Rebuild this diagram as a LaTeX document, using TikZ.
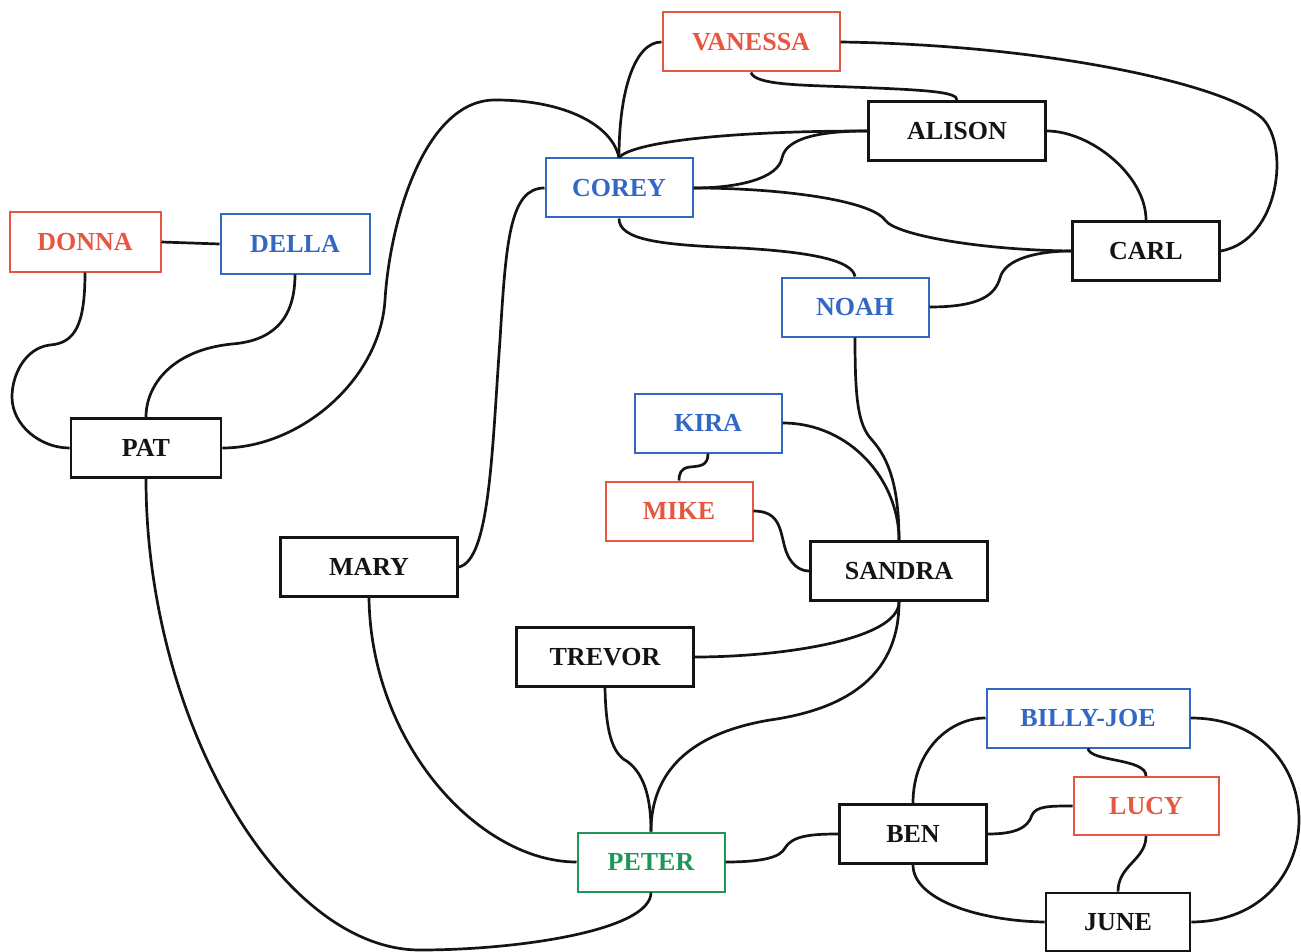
\documentclass[tikz,border=0pt]{standalone}
\usepackage{fontspec}
\setmainfont{Liberation Serif}
\definecolor{redc}{RGB}{230,86,64}
\definecolor{bluec}{RGB}{50,104,196}
\definecolor{greenc}{RGB}{30,150,88}
\definecolor{inkc}{RGB}{20,20,20}
\begin{document}
\begin{tikzpicture}[x=1pt,y=-1pt,
  pbox/.style={draw=inkc, line width=2.8pt, inner sep=0pt, minimum height=59pt,
    minimum width=147pt, text=inkc, font=\bfseries\fontsize{26}{30}\selectfont},
  wide/.style={minimum width=177pt},
  redbox/.style={draw=redc, text=redc, line width=2pt},
  bluebox/.style={draw=bluec, text=bluec, line width=2pt},
  greenbox/.style={draw=greenc, text=greenc, line width=2pt},
  link/.style={draw=inkc, line width=2.7pt}]
\useasboundingbox (0,0) rectangle (1301,952);

% people
\node[pbox, wide, redbox]  (vanessa) at (751,42)   {VANESSA};
\node[pbox, wide]          (alison)  at (957,131)  {ALISON};
\node[pbox, bluebox]       (corey)   at (619,188)  {COREY};
\node[pbox, redbox, minimum width=151pt] (donna) at (85,242) {DONNA};
\node[pbox, bluebox, minimum width=149pt] (della) at (295,244) {DELLA};
\node[pbox]                (carl)    at (1146,251) {CARL};
\node[pbox, bluebox]       (noah)    at (855,307)  {NOAH};
\node[pbox, bluebox]       (kira)    at (708,423)  {KIRA};
\node[pbox, minimum width=150pt] (pat) at (146,448) {PAT};
\node[pbox, redbox]        (mike)    at (679,511)  {MIKE};
\node[pbox, wide]          (mary)    at (369,567)  {MARY};
\node[pbox, wide]          (sandra)  at (899,571)  {SANDRA};
\node[pbox, wide]          (trevor)  at (605,657)  {TREVOR};
\node[pbox, bluebox, minimum width=203pt] (billy) at (1088,718) {BILLY-JOE};
\node[pbox, redbox, minimum width=145pt, minimum height=58pt] (lucy) at (1146,806) {LUCY};
\node[pbox]                (ben)     at (913,834)  {BEN};
\node[pbox, greenbox]      (peter)   at (651,862)  {PETER};
\node[pbox, minimum width=144pt, minimum height=58pt] (june) at (1118,922) {JUNE};

% links
\path[link] (donna.east) -- (della.west);
\path[link] (donna.south) .. controls (85,325) and (75,343) .. (50,345)
  .. controls (25,348) and (12,375) .. (12,397)
  .. controls (12,425) and (40,448) .. (pat.west);
\path[link] (della.south) .. controls (295,322) and (270,341) .. (232,344)
  .. controls (172,350) and (146,385) .. (pat.north);
\path[link] (pat.east) .. controls (300,448) and (380,380) .. (385,300)
  .. controls (390,220) and (425,100) .. (495,100)
  .. controls (565,100) and (612,125) .. (corey.north);
\path[link] (pat.south) .. controls (146,720) and (280,950) .. (420,950)
  .. controls (520,950) and (651,930) .. (peter.south);
\path[link] (mary.east) .. controls (490,560) and (492,450) .. (500,340)
  .. controls (506,240) and (510,188) .. (corey.west);
\path[link] (mary.south) .. controls (371,745) and (480,862) .. (peter.west);
\path[link] (corey.north) .. controls (619,90) and (635,42) .. (vanessa.west);
\path[link] (corey.north) .. controls (632,143) and (720,131) .. (alison.west);
\path[link] (corey.east) .. controls (740,188) and (778,178) .. (782,158)
  .. controls (786,138) and (820,131) .. (alison.west);
\path[link] (corey.east) .. controls (780,188) and (870,200) .. (885,220)
  .. controls (895,235) and (980,250) .. (carl.west);
\path[link] (corey.south) .. controls (619,240) and (660,245) .. (740,248)
  .. controls (810,252) and (852,260) .. (noah.north);
\path[link] (vanessa.south) .. controls (755,85) and (800,85) .. (850,87)
  .. controls (930,90) and (957,92) .. (alison.north);
\path[link] (vanessa.east) .. controls (1050,45) and (1225,85) .. (1262,118)
  .. controls (1290,145) and (1280,240) .. (carl.east);
\path[link] (alison.east) .. controls (1090,131) and (1146,175) .. (carl.north);
\path[link] (noah.east) .. controls (980,307) and (995,295) .. (1000,278)
  .. controls (1005,258) and (1040,251) .. (carl.west);
\path[link] (noah.south) .. controls (855,400) and (858,425) .. (872,440)
  .. controls (890,460) and (899,490) .. (sandra.north);
\path[link] (kira.east) .. controls (850,423) and (899,480) .. (sandra.north);
\path[link] (kira.south) .. controls (708,466) and (700,466) .. (690,467)
  .. controls (680,468) and (679,475) .. (mike.north);
\path[link] (mike.east) .. controls (780,511) and (780,530) .. (785,548)
  .. controls (790,565) and (800,571) .. (sandra.west);
\path[link] (sandra.south) .. controls (899,640) and (780,657) .. (trevor.east);
\path[link] (sandra.south) .. controls (899,680) and (840,710) .. (770,720)
  .. controls (680,735) and (651,780) .. (peter.north);
\path[link] (trevor.south) .. controls (606,740) and (615,755) .. (628,762)
  .. controls (645,775) and (651,800) .. (peter.north);
\path[link] (peter.east) .. controls (760,862) and (780,858) .. (785,848)
  .. controls (792,836) and (810,834) .. (ben.west);
\path[link] (ben.north) .. controls (913,750) and (950,718) .. (billy.west);
\path[link] (ben.south) .. controls (913,900) and (980,921) .. (june.west);
\path[link] (ben.east) .. controls (1015,834) and (1028,828) .. (1032,815)
  .. controls (1036,806) and (1050,806) .. (lucy.west);
\path[link] (billy.south) .. controls (1090,762) and (1146,758) .. (lucy.north);
\path[link] (billy.east) .. controls (1335,718) and (1335,921) .. (june.east);
\path[link] (lucy.south) .. controls (1146,860) and (1118,865) .. (june.north);
\end{tikzpicture}
\end{document}
